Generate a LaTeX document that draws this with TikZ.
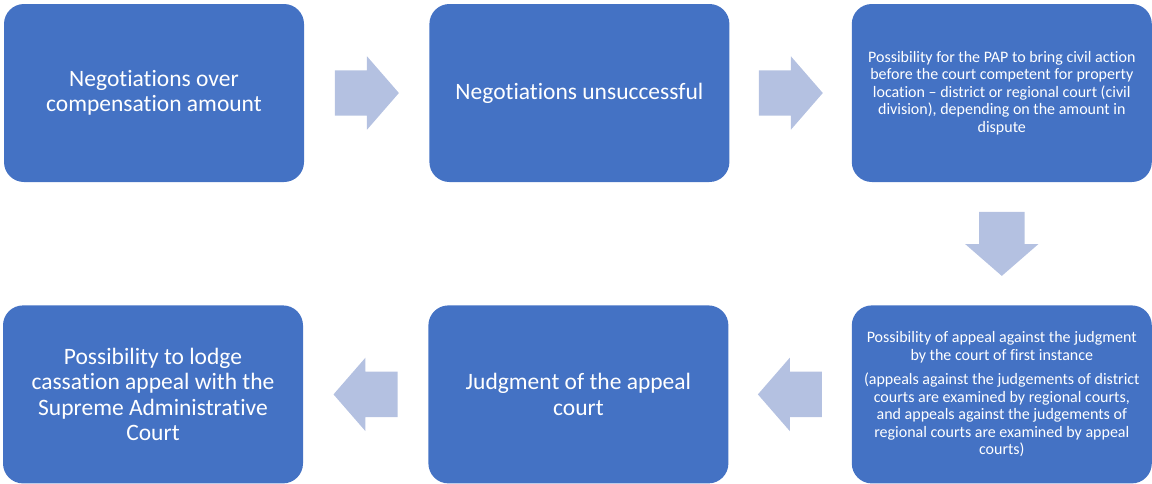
\documentclass[tikz,border=0pt]{standalone}
\usepackage{fontspec}
\setmainfont{Carlito}[Ligatures={TeX,NoCommon}, RawFeature={-liga;-clig;-calt}]
\usetikzlibrary{positioning,shapes.arrows,calc}
\definecolor{boxblue}{RGB}{68,114,196}
\definecolor{arrowblue}{RGB}{180,193,225}

\begin{document}
\begin{tikzpicture}
        \tikzstyle{stage}=[rectangle, rounded corners=20pt, fill=boxblue, text=white, minimum width=300pt, minimum height=178pt, inner sep=6pt, align=center]
        \tikzstyle{big}=[font=\fontsize{23.5}{25.5}\selectfont]
        \tikzstyle{small}=[font=\fontsize{16}{17.5}\selectfont]
        \tikzstyle{flow}=[single arrow, fill=arrowblue, anchor=tail, minimum height=64pt, inner xsep=0pt, inner ysep=22.5pt, single arrow head extend=14pt, single arrow tip angle=98]
        \useasboundingbox (0pt,0pt) rectangle (1152pt,-483pt);
        \node[stage, big]                      (talks)  at (154pt,-93pt) {Negotiations over\\compensation amount};
        \node[stage, big, right=125pt of talks]  (fail)   {Negotiations unsuccessful};
        \node[stage, small, right=122pt of fail] (civil)  {Possibility for the PAP to bring civil action\\before the court competent for property\\location – district or regional court (civil\\division), depending on the amount in\\dispute};
        \node[stage, small, below=123pt of civil] (appeal) {Possibility of appeal against the judgment\\by the court of first instance\\[7pt](appeals against the judgements of district\\courts are examined by regional courts,\\and appeals against the judgements of\\regional courts are examined by appeal\\courts)};
        \node[stage, big, left=123pt of appeal]  (judg)   {Judgment of the appeal\\court};
        \node[stage, big, left=125pt of judg]    (cass)   {Possibility to lodge\\cassation appeal with the\\Supreme Administrative\\Court};
        % arrows placed by their tail, 32pt back from the middle of each gap
        \node[flow]             (a1) at ($(talks.east)!0.5!(fail.west)!32pt!(talks.east)$)    {};
        \node[flow]             (a2) at ($(fail.east)!0.5!(civil.west)!32pt!(fail.east)$)     {};
        \node[flow, rotate=-90] (a3) at ($(civil.south)!0.5!(appeal.north)!32pt!(civil.south)$) {};
        \node[flow, rotate=180] (a4) at ($(appeal.west)!0.5!(judg.east)!32pt!(appeal.west)$)  {};
        \node[flow, rotate=180] (a5) at ($(judg.west)!0.5!(cass.east)!32pt!(judg.west)$)      {};
\end{tikzpicture}
\end{document}
